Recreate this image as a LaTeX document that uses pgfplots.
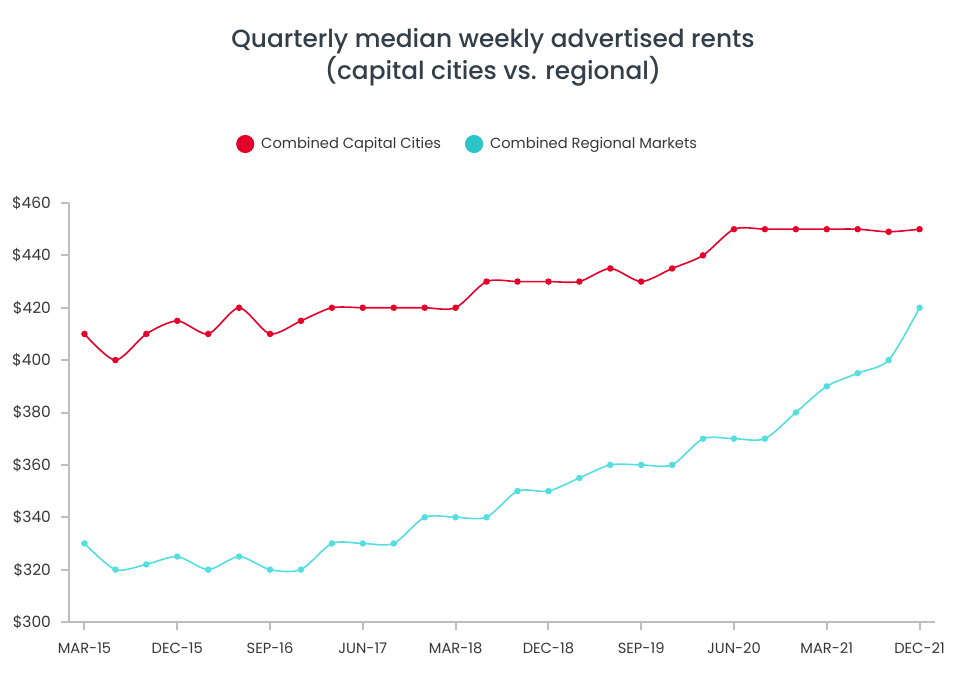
\documentclass[border=0pt]{standalone}
\usepackage{fontspec}
\setmainfont{Poppins}
\newfontfamily\titlefont{Poppins Medium}
\usepackage{pgfplots}
\pgfplotsset{compat=1.18}

\definecolor{capred}{RGB}{228,0,43}
\definecolor{regcyan}{RGB}{85,222,224}
\definecolor{legcyan}{RGB}{43,196,200}
\definecolor{axgray}{RGB}{190,190,190}
\definecolor{txtgray}{RGB}{55,55,55}
\definecolor{titlecol}{RGB}{50,62,72}

\begin{document}
\begin{tikzpicture}
\useasboundingbox (0,0) rectangle (720pt,514.5pt);
\node[font=\titlefont\fontsize{18.6}{24}\selectfont, text=titlecol, align=center]
  at (369.75pt,471.75pt) {Quarterly median weekly advertised rents\\(capital cities vs. regional)};
\begin{axis}[
    at={(51.75pt,48pt)}, anchor=south west,
    scale only axis,
    width=649.5pt, height=314.25pt,
    xmin=-0.5, xmax=27.5,
    ymin=300, ymax=460,
    axis lines=left,
    axis line style={-, axgray, line width=1.5pt},
    tick style={axgray, line width=1.5pt},
    tick align=outside,
    major tick length=6pt,
    xtick={0,3,...,27},
    xticklabels={MAR-15,DEC-15,SEP-16,JUN-17,MAR-18,DEC-18,SEP-19,JUN-20,MAR-21,DEC-21},
    ytick={300,320,...,460},
    yticklabels={\$300,\$320,\$340,\$360,\$380,\$400,\$420,\$440,\$460},
    ticklabel style={font=\fontsize{11}{13}\selectfont, text=txtgray},
    xticklabel style={yshift=-6pt},
    yticklabel style={xshift=-4pt, font=\fontsize{11.6}{13}\selectfont},
    clip=false,
    legend columns=2,
    legend style={draw=none, fill=none, at={(0.4607,1.1408)}, anchor=center,
      font=\fontsize{11}{13}\selectfont, text=txtgray,
      /tikz/every even column/.append style={column sep=16pt}},
    legend image code/.code={\fill (0.2cm,0cm) circle (6.2pt); \path[draw=none, fill=none] (0cm,0cm) rectangle (0.55cm,0.01cm);},
]
\addplot[color=capred, line width=1.2pt, smooth, tension=0.45, mark=*, mark size=1.8pt] coordinates {
 (0,410) (1,400) (2,410) (3,415) (4,410) (5,420) (6,410) (7,415) (8,420) (9,420)
 (10,420) (11,420) (12,420) (13,430) (14,430) (15,430) (16,430) (17,435) (18,430) (19,435)
 (20,440) (21,450) (22,450) (23,450) (24,450) (25,450) (26,449) (27,450)
};
\addlegendentry{Combined Capital Cities}
\addplot[color=regcyan, line width=1.2pt, smooth, tension=0.45, mark=*, mark size=1.8pt,
  legend image code/.code={\fill[legcyan] (0.2cm,0cm) circle (6.2pt); \path[draw=none, fill=none] (0cm,0cm) rectangle (0.55cm,0.01cm);}] coordinates {
 (0,330) (1,320) (2,322) (3,325) (4,320) (5,325) (6,320) (7,320) (8,330) (9,330)
 (10,330) (11,340) (12,340) (13,340) (14,350) (15,350) (16,355) (17,360) (18,360) (19,360)
 (20,370) (21,370) (22,370) (23,380) (24,390) (25,395) (26,400) (27,420)
};
\addlegendentry{Combined Regional Markets}
\end{axis}
\end{tikzpicture}
\end{document}
